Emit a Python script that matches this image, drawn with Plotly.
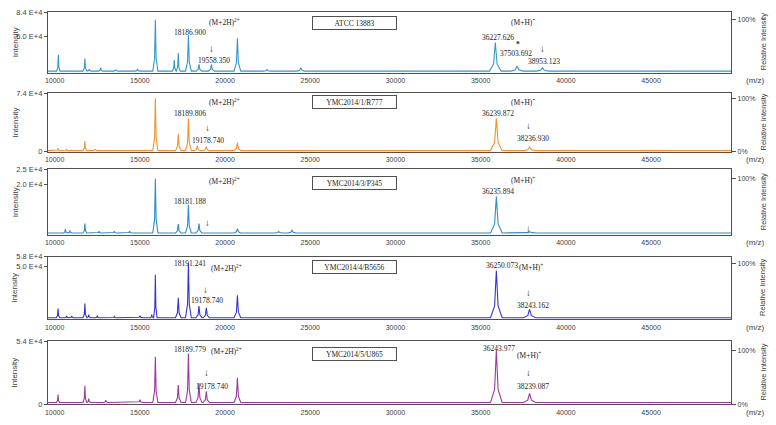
import plotly.graph_objects as go

W, H = 776, 425
x_range = [9600, 49700]
x_ticks = [10000, 15000, 20000, 25000, 30000, 35000, 40000, 45000]

strains = ["ATCC 13883", "YMC2014/1/R777", "YMC2014/3/P345", "YMC2014/4/B5656", "YMC2014/5/U865"]
colors = ["#3398CC", "#F5922F", "#2C8ECA", "#3434D2", "#9A3A9C"]

# peak positions (m/z) and intensities
atcc_mz = [10216, 11775, 12030, 12700, 13600, 14860, 15910, 17020, 17255, 17850, 18470, 19200, 20725, 22460, 24450, 35860, 37130, 38630, 45090]
atcc_int = [24800, 19400, 4500, 6800, 3500, 5000, 73200, 17200, 27100, 51900, 11200, 11200, 47400, 4000, 6800, 41600, 9000, 6800, 3000]

r777_mz = [10200, 10700, 11775, 12400, 15910, 17255, 17850, 18370, 18900, 20725, 35920, 37870]
r777_int = [4500, 3500, 13600, 3000, 67800, 22600, 42300, 7400, 6500, 11500, 42300, 6200]

p345_mz = [10630, 10900, 11775, 12600, 13500, 14400, 15910, 17255, 17850, 18470, 20725, 23150, 23930, 35920, 37900]
p345_int = [4700, 4300, 6600, 4000, 4000, 4000, 21900, 6400, 13000, 6600, 4900, 3900, 4450, 15800, 3800]

b5656_mz = [10200, 10700, 11000, 11775, 12000, 12500, 13500, 15000, 15700, 15910, 17255, 17850, 18470, 18900, 20725, 35920, 37870]
b5656_int = [13200, 7000, 7000, 17700, 8000, 7000, 6500, 7000, 8000, 42400, 22500, 52300, 15500, 14000, 24800, 46100, 12600]

u865_mz = [10200, 11775, 12000, 13000, 15000, 15910, 17255, 17850, 18470, 18900, 20725, 35920, 37870]
u865_int = [8300, 15800, 5000, 3500, 4000, 40800, 16600, 43500, 18000, 11100, 22700, 46300, 9400]

baselines = [2000, 1500, 3400, 5300, 1600]
y_ranges = [[0, 84300], [0, 74300], [2700, 25100], [4100, 58200], [0, 54500]]
left_tickvals = [[50000, 84000], [0, 74000], [20000, 25000], [50000, 58000], [0, 54000]]
left_ticktext = [["5.0 E+4", "8.4 E+4"], ["0", "7.4 E+4"], ["2.0 E+4", "2.5 E+4"], ["5.0 E+4", "5.8 E+4"], ["0", "5.4 E+4"]]
right_tickvals = [[100], [0, 100], [100], [100], [0, 100]]

series = [(atcc_mz, atcc_int), (r777_mz, r777_int), (p345_mz, p345_int), (b5656_mz, b5656_int), (u865_mz, u865_int)]

# panel pixel extents (top, bottom)
panels = [(8, 70), (91, 151), (169, 236), (258, 322), (344, 409)]
x_left, x_right = 45, 731


def spectrum(mz, inten, base):
    pk = sorted(zip(mz, inten))
    xs, ys = [x_range[0]], [base]
    for i, (m, h) in enumerate(pk):
        w = 0.0095 * m
        if i > 0:
            w = min(w, (m - pk[i - 1][0]) * 0.48)
        if i < len(pk) - 1:
            w = min(w, (pk[i + 1][0] - m) * 0.48)
        mid = base + 0.25 * (h - base)
        xs += [m - w, m - 0.3 * w, m, m + 0.3 * w, m + w]
        ys += [base, mid, h, mid, base]
    xs.append(x_range[1])
    ys.append(base)
    return xs, ys


fig = go.Figure()
layout = dict(width=W, height=H, margin=dict(l=0, r=0, t=0, b=0),
              paper_bgcolor="white", plot_bgcolor="white", showlegend=False)

sans = "Liberation Sans, Arial"
serif = "Liberation Serif, Times New Roman"
xtick_font = dict(family=sans, size=7, color="#404040")
ytick_font = dict(family=sans, size=7.5, color="#404040")
annotations = []


def px(x, y):
    return x / W, 1 - y / H


def ann(text, x, y, size=7.5, **kw):
    ax, ay = px(x, y)
    d = dict(text=text, x=ax, y=ay, xref="paper", yref="paper", showarrow=False,
             font=dict(family=serif, size=size, color="#222222"),
             xanchor="center", yanchor="middle")
    d.update(kw)
    return d


for i, ((mz, inten), base) in enumerate(zip(series, baselines)):
    n = i + 1
    rn = n + 5
    top, bot = panels[i]
    dom_y = [1 - bot / H, 1 - top / H]
    dom_x = [x_left / W, x_right / W]
    xs, ys = spectrum(mz, inten, base)
    fig.add_trace(go.Scatter(x=xs, y=ys, mode="lines", line=dict(color=colors[i], width=1.1),
                             xaxis=f"x{n}", yaxis=f"y{n}", hoverinfo="skip"))
    fig.add_trace(go.Scatter(x=[x_range[0]], y=[0], mode="markers", marker=dict(opacity=0),
                             xaxis=f"x{n}", yaxis=f"y{rn}", hoverinfo="skip"))
    pmax = max(inten)
    layout[f"xaxis{n}"] = dict(domain=dom_x, range=x_range, anchor=f"y{n}", tickvals=x_ticks,
                               ticktext=[str(t) for t in x_ticks], showline=True, mirror=True,
                               linecolor="#505050", linewidth=1, showgrid=False, zeroline=False,
                               ticks="", tickfont=xtick_font, ticklabelstandoff=1)
    layout[f"yaxis{n}"] = dict(domain=dom_y, range=y_ranges[i], anchor=f"x{n}",
                               tickvals=left_tickvals[i], ticktext=left_ticktext[i],
                               showline=True, mirror=True, linecolor="#505050", linewidth=1,
                               showgrid=False, zeroline=False, ticks="outside", ticklen=3,
                               tickcolor="#505050", tickfont=ytick_font)
    layout[f"yaxis{rn}"] = dict(overlaying=f"y{n}", side="right", anchor=f"x{n}",
                                range=[y_ranges[i][0] / pmax * 100, y_ranges[i][1] / pmax * 100],
                                tickvals=right_tickvals[i],
                                ticktext=[f"{v}%" for v in right_tickvals[i]],
                                showline=False, showgrid=False, zeroline=False, ticks="outside",
                                ticklen=4, tickcolor="#505050", tickfont=xtick_font)
    mid = (top + bot) / 2
    annotations.append(dict(text="Intensity", x=12 / W, y=1 - mid / H, xref="paper", yref="paper",
                            showarrow=False, textangle=-90,
                            font=dict(family=sans, size=8, color="#404040"),
                            xanchor="center", yanchor="middle"))
    annotations.append(dict(text="Relative Intensity", x=763 / W, y=1 - mid / H, xref="paper",
                            yref="paper", showarrow=False, textangle=-90,
                            font=dict(family=sans, size=7.5, color="#404040"),
                            xanchor="center", yanchor="middle"))
    annotations.append(dict(text="(m/z)", x=755 / W, y=1 - (bot + 8) / H, xref="paper", yref="paper",
                            showarrow=False,
                            font=dict(family=sans, size=8, color="#404040"),
                            xanchor="center", yanchor="middle"))

# strain boxes
box_y = [19, 100, 183, 269, 358]
for s, by in zip(strains, box_y):
    annotations.append(ann(s, 353, by, size=7.5, bordercolor="#505050", borderwidth=1,
                           width=81, height=10, borderpad=1, bgcolor="white"))

# peak labels
labels = [
    # panel 1
    ("(M+2H)<sup>2+</sup>", 222, 18), ("18186.900", 188, 29), ("↓", 209, 46), ("19558.350", 212, 58),
    ("(M+H)<sup>+</sup>", 522, 18), ("36227.626", 497, 34), ("<b>*</b>", 517, 41),
    ("37503.692", 515, 51), ("↓", 542, 46), ("38953.123", 543, 59),
    # panel 2
    ("(M+2H)<sup>2+</sup>", 222, 100), ("18189.806", 188, 112), ("↓", 205, 127), ("19178.740", 206, 139),
    ("(M+H)<sup>+</sup>", 522, 100), ("36239.872", 497, 112), ("↓", 528, 125), ("38236.930", 532, 137),
    # panel 3
    ("(M+2H)<sup>2+</sup>", 222, 181), ("18181.188", 188, 202), ("<b>↓</b>", 205, 224),
    ("(M+H)<sup>+</sup>", 522, 180), ("36235.894", 497, 192), ("<b>↓</b>", 528, 230),
    # panel 4
    ("18191.241", 188, 265), ("(M+2H)<sup>2+</sup>", 224, 270), ("↓", 203, 292), ("19178.740", 205, 303),
    ("36250.073", 501, 267), ("(M+H)<sup>+</sup>", 530, 269), ("↓", 528, 295), ("38243.162", 532, 308),
    # panel 5
    ("18189.779", 188, 353), ("(M+2H)<sup>2+</sup>", 224, 354), ("↓", 204, 377), ("19178.740", 210, 391),
    ("36243.977", 498, 352), ("(M+H)<sup>+</sup>", 528, 359), ("↓", 528, 377), ("38239.087", 532, 391),
]
for t, x, y in labels:
    if "↓" in t:
        annotations.append(ann(t, x, y, size=9.5))
    else:
        annotations.append(ann(t, x, y))

layout["annotations"] = annotations
fig.update_layout(**layout)
fig.write_html("out.html", config={"displayModeBar": False},
               post_script="document.body.style.margin='0px';document.body.style.overflow='hidden';")
